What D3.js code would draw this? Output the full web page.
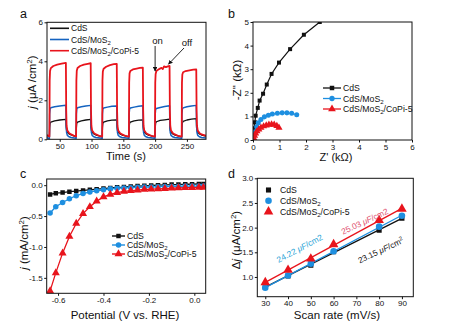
<!DOCTYPE html>
<html><head><meta charset="utf-8">
<script src="https://cdn.jsdelivr.net/npm/d3@7"></script>
<style>
body{margin:0;background:#fff}
svg{display:block;font-family:"Liberation Sans",Arial,sans-serif}
</style>
</head><body>
<svg id="fig" width="451" height="326"></svg>
<script>
// ---------------- DATA ----------------
const legendNames = [
  [["CdS"]],
  [["CdS/MoS"],["2","sub"]],
  [["CdS/MoS"],["2","sub"],["/CoPi-5"]]
];
// panel a : photocurrent vs time (s, µA/cm2)
const aTicksX = [50,100,150,200,250];
const aTicksY = [0,2,4,6];
const aCdS = [[30,0.2],[33.8,0.13],
 [34.2,0.6],[34.8,0.82],[36,0.88],[42,0.95],[50,0.99],[59.7,1.02],
 [60.2,0.6],[60.8,0.45],[62,0.36],[64.5,0.28],[68,0.22],[72,0.17],[75.8,0.13],
 [76.2,0.6],[76.8,0.82],[78,0.88],[84,0.95],[91,0.99],[98.7,1.02],
 [99.2,0.6],[99.8,0.45],[101,0.36],[103.5,0.28],[107,0.22],[112,0.17],[116.8,0.13],
 [117.2,0.6],[117.8,0.82],[119,0.88],[125,0.95],[132,0.98],[139.7,1.0],
 [140.2,0.6],[140.8,0.45],[142,0.36],[144.5,0.28],[148,0.22],[153,0.17],[158.8,0.13],
 [159.2,0.6],[159.8,0.82],[161,0.88],[167,0.95],[174,0.98],[180.7,1.0],
 [181.2,0.6],[181.8,0.45],[183,0.36],[185.5,0.28],[189,0.22],[194,0.17],[199.8,0.13],
 [200.2,0.6],[200.8,0.82],[202,0.9],[208,0.97],[215,1.0],[222.7,1.03],
 [223.2,0.6],[223.8,0.45],[225,0.36],[227.5,0.28],[231,0.22],[236,0.17],[241.8,0.13],
 [242.2,0.6],[242.8,0.84],[244,0.92],[250,0.99],[257,1.03],[264.7,1.06],
 [265.2,0.6],[265.8,0.45],[267,0.36],[269.5,0.28],[273,0.22],[280,0.16]];
const aMoS2 = [[30,0.08],[33.8,0.04],
 [34.2,1.3],[34.8,1.55],[36,1.62],[42,1.67],[50,1.71],[59.7,1.75],
 [60.2,0.7],[60.8,0.35],[62,0.2],[64.5,0.13],[68,0.09],[75.8,0.05],
 [76.2,1.3],[76.8,1.55],[78,1.62],[84,1.67],[91,1.71],[98.7,1.74],
 [99.2,0.7],[99.8,0.35],[101,0.2],[103.5,0.13],[107,0.09],[116.8,0.05],
 [117.2,1.3],[117.8,1.55],[119,1.6],[125,1.65],[132,1.69],[139.7,1.71],
 [140.2,0.7],[140.8,0.35],[142,0.2],[144.5,0.13],[148,0.09],[158.8,0.05],
 [159.2,1.3],[159.8,1.55],[161,1.6],[167,1.65],[174,1.69],[180.7,1.72],
 [181.2,0.7],[181.8,0.35],[183,0.2],[185.5,0.13],[189,0.09],[199.8,0.05],
 [200.2,1.3],[200.8,1.53],[202,1.58],[208,1.63],[215,1.68],[222.7,1.72],
 [223.2,0.7],[223.8,0.35],[225,0.2],[227.5,0.13],[231,0.09],[241.8,0.05],
 [242.2,1.3],[242.8,1.55],[244,1.61],[250,1.67],[257,1.71],[264.7,1.74],
 [265.2,0.7],[265.8,0.35],[267,0.2],[269.5,0.13],[273,0.09],[280,0.06]];
const aCoPi = [[30,0.22],[33.8,0.14],
 [34.2,3.0],[34.8,3.5],[36,3.65],[40,3.76],[46,3.83],[53,3.88],[59.7,3.92],
 [60.2,1.5],[60.8,0.7],[62,0.45],[64.5,0.33],[68,0.25],[72,0.19],[75.8,0.15],
 [76.2,3.0],[76.8,3.52],[78,3.66],[82,3.76],[88,3.83],[94,3.87],[98.7,3.9],
 [99.2,1.5],[99.8,0.7],[101,0.45],[103.5,0.33],[107,0.25],[112,0.18],[116.8,0.14],
 [117.2,3.0],[117.8,3.48],[119,3.62],[123,3.72],[129,3.8],[135,3.85],[139.7,3.87],
 [140.2,1.5],[140.8,0.7],[142,0.45],[144.5,0.33],[148,0.25],[153,0.18],[158.8,0.14],
 [159.2,2.9],[159.8,3.38],[161,3.5],[165,3.58],[171,3.63],[176,3.66],[180.7,3.68],
 [181.2,1.5],[181.8,0.7],[183,0.45],[185.5,0.33],[189,0.25],[194,0.18],[199.8,0.14],
 [200.2,2.9],[200.8,3.35],[202,3.5],[206,3.6],[210,3.66],[212,3.6],[214,3.74],[217,3.7],[220,3.74],[222.7,3.76],
 [223.2,1.5],[223.8,0.7],[225,0.45],[227.5,0.33],[231,0.25],[236,0.18],[241.8,0.14],
 [242.2,2.9],[242.8,3.32],[244,3.44],[248,3.5],[254,3.54],[260,3.57],[264.7,3.58],
 [265.2,1.5],[265.8,0.7],[267,0.45],[269.5,0.33],[273,0.25],[280,0.18]];

// panel b : Nyquist plot (kOhm)
const bTicksX = [0,1,2,3,4,5,6];
const bTicksY = [0,1,2,3,4,5];
const bCdS = [[0.02,0.1],[0.04,0.3],[0.05,0.5],[0.07,0.75],[0.1,1.03],[0.18,1.36],[0.25,1.67],[0.38,1.96],[0.52,2.35],[0.7,2.8],[0.98,3.28],[1.4,3.85],[1.92,4.46],[2.52,5.0],[2.8,5.2]];
const bMoS2 = [[0.02,0.08],[0.04,0.2],[0.075,0.35],[0.14,0.56],[0.2,0.73],[0.3,0.87],[0.43,0.98],[0.58,1.05],[0.73,1.1],[0.92,1.13],[1.1,1.15],[1.28,1.15],[1.46,1.13],[1.65,1.07]];
const bCoPi = [[0.03,0.08],[0.06,0.18],[0.1,0.28],[0.15,0.37],[0.22,0.45],[0.3,0.52],[0.4,0.58],[0.5,0.62],[0.6,0.65],[0.7,0.66],[0.8,0.65],[0.9,0.6],[0.98,0.52]];

// panel c : LSV (V vs RHE, mA/cm2)
const cTicksX = [-0.6,-0.4,-0.2,0.0];
const cTickLabelsX = ["-0.6","-0.4","-0.2","0.0"];
const cTicksY = [0,-0.5,-1.0,-1.5];
const cTickLabelsY = ["0.0","-0.5","-1.0","-1.5"];
const cPotential = [-0.635,-0.61,-0.58,-0.55,-0.52,-0.49,-0.46,-0.43,-0.40,-0.37,-0.34,-0.31,-0.28,-0.25,-0.22,-0.19,-0.16,-0.13,-0.10,-0.07,-0.04,-0.01,0.02,0.04];
const cCdS  = [-0.15,-0.13,-0.12,-0.105,-0.095,-0.085,-0.075,-0.065,-0.055,-0.045,-0.035,-0.03,-0.02,-0.015,-0.01,-0.005,0.0,0.005,0.01,0.01,0.015,0.015,0.02,0.02];
const cMoS2 = [-0.45,-0.35,-0.28,-0.22,-0.17,-0.135,-0.11,-0.09,-0.075,-0.06,-0.05,-0.045,-0.04,-0.035,-0.03,-0.03,-0.025,-0.02,-0.02,-0.02,-0.015,-0.015,-0.015,-0.015];
const cCoPi = [-1.71,-1.42,-1.10,-0.83,-0.62,-0.46,-0.35,-0.26,-0.19,-0.15,-0.12,-0.10,-0.09,-0.08,-0.07,-0.065,-0.06,-0.055,-0.05,-0.045,-0.04,-0.04,-0.035,-0.035];

// panel d : double-layer capacitance
const dScanRate = [30,40,50,60,80,90];
const dTicksX = [30,40,50,60,70,80,90];
const dTicksY = [1.0,1.5,2.0,2.5,3.0];
const dTickLabelsY = ["1.0","1.5","2.0","2.5","3.0"];
const dCdS  = [0.80,1.02,1.24,1.51,1.95,2.19];
const dMoS2 = [0.78,1.03,1.27,1.52,2.02,2.24];
const dCoPi = [0.89,1.14,1.37,1.66,2.15,2.38];
const dCapLabels = ["23.15","24.22","25.03"];

// ---------------- STYLE ----------------
const BLACK="#111111", BLUE_A="#1463c0", BLUE="#1e8fe0", RED="#e8141c";
const svg = d3.select("#fig");
svg.append("rect").attr("width",451).attr("height",326).attr("fill","#fff");

// rich text: parts = [[text, style]], style in {sub, sup, it}
function rich(sel, parts, size){
  let pending = 0;
  parts.forEach(p=>{
    const ts = sel.append("tspan").text(p[0]);
    let dy = pending; pending = 0;
    if(p[1]==="sub"){ ts.attr("font-size",size*0.7); dy += size*0.28; pending = -size*0.28; }
    else if(p[1]==="sup"){ ts.attr("font-size",size*0.7); dy += -size*0.38; pending = size*0.38; }
    else { ts.attr("font-size",size); }
    if(p[1]==="it") ts.attr("font-style","italic");
    if(dy!==0) ts.attr("dy",dy);
  });
  return sel;
}

function frame(g,x,y,id,opts){
  const [x0,x1]=x.range(), [y0,y1]=y.range();
  svg.append("clipPath").attr("id",id).append("rect")
    .attr("x",Math.min(x0,x1)).attr("y",Math.min(y0,y1))
    .attr("width",Math.abs(x1-x0)).attr("height",Math.abs(y1-y0));
  const ax = g.append("g").attr("transform",`translate(0,${y0})`)
    .call(d3.axisBottom(x).tickValues(opts.tx).tickSize(2.5).tickPadding(1.5).tickFormat(opts.fx||(d=>d)));
  const ay = g.append("g").attr("transform",`translate(${x0},0)`)
    .call(d3.axisLeft(y).tickValues(opts.ty).tickSize(2.5).tickPadding(1.5).tickFormat(opts.fy||(d=>d)));
  [ax,ay].forEach(a=>{
    a.select(".domain").remove();
    a.selectAll("text").attr("font-size",8).attr("font-family",null).attr("fill","#111");
    a.selectAll("line").attr("stroke","#111");
  });
  g.append("rect").attr("x",x0).attr("y",y1).attr("width",x1-x0).attr("height",y0-y1)
    .attr("fill","none").attr("stroke","#111").attr("stroke-width",1);
}

function title(txt,x,y,rot,size){
  const s=size||11.5;
  const t = svg.append("text").attr("font-size",s).attr("fill","#111")
    .attr("text-anchor","middle")
    .attr("transform",`translate(${x},${y})`+(rot?" rotate(-90)":""));
  rich(t,txt,s);
  return t;
}
function letter(l,x,y){
  svg.append("text").attr("x",x).attr("y",y).attr("font-size",12.5).attr("fill","#111").text(l);
}
const symTypes=[d3.symbolSquare,d3.symbolCircle,d3.symbolTriangle];

// ---------------- PANEL A ----------------
{
  const x=d3.scaleLinear([30,280],[47,206]);
  const y=d3.scaleLinear([0,6],[139.3,22.3]);
  const g=svg.append("g");
  const line=d3.line().x(d=>x(d[0])).y(d=>y(d[1]));
  const pg=g.append("g").attr("clip-path","url(#clipA)");
  [[aCdS,BLACK,1.3],[aMoS2,BLUE_A,1.5],[aCoPi,RED,1.8]].forEach(([d,c,w])=>{
    pg.append("path").datum(d).attr("d",line).attr("fill","none").attr("stroke",c).attr("stroke-width",w).attr("stroke-linejoin","round");
  });
  frame(g,x,y,"clipA",{tx:aTicksX,ty:aTicksY});
  const cols=[BLACK,BLUE_A,RED];
  legendNames.forEach((n,i)=>{
    const yy=28.3+i*11.2;
    g.append("line").attr("x1",50).attr("x2",69).attr("y1",yy).attr("y2",yy).attr("stroke",cols[i]).attr("stroke-width",1.6);
    rich(g.append("text").attr("x",71).attr("y",yy+3).attr("font-size",8.5).attr("fill","#111"),n,8.5);
  });
  // on / off arrows
  const defs=svg.append("defs");
  defs.append("marker").attr("id","arr").attr("viewBox","0 0 10 10").attr("refX",9).attr("refY",5)
    .attr("markerWidth",5).attr("markerHeight",5).attr("orient","auto")
    .append("path").attr("d","M0,0L10,5L0,10z").attr("fill","#111");
  g.append("text").attr("x",157.5).attr("y",44).attr("text-anchor","middle").attr("font-size",9.5).attr("fill","#111").text("on");
  g.append("text").attr("x",187).attr("y",46).attr("text-anchor","middle").attr("font-size",9.5).attr("fill","#111").text("off");
  g.append("line").attr("x1",x(200)).attr("y1",46).attr("x2",x(200)).attr("y2",y(3.5)).attr("stroke","#111").attr("stroke-width",0.9).attr("marker-end","url(#arr)");
  g.append("line").attr("x1",184).attr("y1",48).attr("x2",x(221)).attr("y2",y(3.85)).attr("stroke","#111").attr("stroke-width",0.9).attr("marker-end","url(#arr)");
  title([["Time (s)"]],126,159.5,false,11);
  title([["j","it"],[" (\u03bcA /cm"],["2","sup"],[")"]],36,82,true);
  letter("a",20,18);
}

// ---------------- PANEL B ----------------
{
  const x=d3.scaleLinear([0,6],[253,412]);
  const y=d3.scaleLinear([0,5],[140,22]);
  const g=svg.append("g");
  const line=d3.line().x(d=>x(d[0])).y(d=>y(d[1]));
  const pg=g.append("g").attr("clip-path","url(#clipB)");
  const sets=[[bCdS,BLACK,16],[bMoS2,BLUE,20],[bCoPi,RED,22]];
  sets.forEach(([d,c,s],i)=>{
    pg.append("path").datum(d).attr("d",line).attr("fill","none").attr("stroke",c).attr("stroke-width",1.2);
    pg.selectAll(null).data(d).enter().append("path")
      .attr("d",d3.symbol(symTypes[i],s)).attr("transform",p=>`translate(${x(p[0])},${y(p[1])})`).attr("fill",c);
  });
  frame(g,x,y,"clipB",{tx:bTicksX,ty:bTicksY});
  const cols=[BLACK,BLUE,RED];
  legendNames.forEach((n,i)=>{
    const yy=88+i*10.5;
    g.append("line").attr("x1",323).attr("x2",341).attr("y1",yy).attr("y2",yy).attr("stroke",cols[i]).attr("stroke-width",1.3);
    g.append("path").attr("d",d3.symbol(symTypes[i],[20,22,26][i])).attr("transform",`translate(332,${yy})`).attr("fill",cols[i]);
    rich(g.append("text").attr("x",343).attr("y",yy+3).attr("font-size",8.7).attr("fill","#111"),n,8.7);
  });
  title([["Z' (k\u03a9)"]],336,161,false,11);
  title([["-Z'' (k\u03a9)"]],241,80,true);
  letter("b",228,18);
}

// ---------------- PANEL C ----------------
{
  const x=d3.scaleLinear([-0.65,0.05],[46.7,205.7]);
  const y=d3.scaleLinear([-1.75,0.1],[293.3,179]);
  const g=svg.append("g");
  const pg=g.append("g").attr("clip-path","url(#clipC)");
  const sets=[[cCdS,BLACK,20],[cMoS2,BLUE,24],[cCoPi,RED,28]];
  sets.forEach(([vals,c,s],i)=>{
    const pts=cPotential.map((p,k)=>[p,vals[k]]);
    pg.append("path").datum(pts).attr("d",d3.line().x(d=>x(d[0])).y(d=>y(d[1]))).attr("fill","none").attr("stroke",c).attr("stroke-width",1.3);
    pg.selectAll(null).data(pts).enter().append("path")
      .attr("d",d3.symbol(symTypes[i],s)).attr("transform",p=>`translate(${x(p[0])},${y(p[1])})`).attr("fill",c);
  });
  frame(g,x,y,"clipC",{tx:cTicksX,ty:cTicksY,fx:(d,i)=>cTickLabelsX[i],fy:(d,i)=>cTickLabelsY[i]});
  const cols=[BLACK,BLUE,RED];
  legendNames.forEach((n,i)=>{
    const yy=236+i*9;
    g.append("line").attr("x1",112).attr("x2",125).attr("y1",yy).attr("y2",yy).attr("stroke",cols[i]).attr("stroke-width",1.4);
    g.append("path").attr("d",d3.symbol(symTypes[i],[20,24,28][i])).attr("transform",`translate(118.5,${yy})`).attr("fill",cols[i]);
    rich(g.append("text").attr("x",127).attr("y",yy+3).attr("font-size",8.7).attr("fill","#111"),n,8.7);
  });
  title([["Potential (V vs. RHE)"]],125,318.5);
  title([["j","it"],[" (mA/cm"],["2","sup"],[")"]],28,243,true);
  letter("c",20,178);
}

// ---------------- PANEL D ----------------
{
  const x=d3.scaleLinear([26.5,95],[257.3,413.3]);
  const y=d3.scaleLinear([0.6,3.0],[296.7,178.3]);
  const g=svg.append("g");
  const pg=g.append("g").attr("clip-path","url(#clipD)");
  const sets=[[dCdS,BLACK,26],[dMoS2,BLUE,34],[dCoPi,RED,40]];
  sets.forEach(([vals,c,s],i)=>{
    // least-squares fit of each series
    const n=vals.length, mx=d3.mean(dScanRate), my=d3.mean(vals);
    const b=d3.sum(dScanRate.map((xx,k)=>(xx-mx)*(vals[k]-my)))/d3.sum(dScanRate.map(xx=>(xx-mx)**2));
    const a=my-b*mx;
    const x0=dScanRate[0], x1=dScanRate[n-1];
    pg.append("line").attr("x1",x(x0)).attr("y1",y(a+b*x0)).attr("x2",x(x1)).attr("y2",y(a+b*x1))
      .attr("stroke",c).attr("stroke-width",1.3);
  });
  sets.forEach(([vals,c,s],i)=>{
    pg.selectAll(null).data(vals).enter().append("path")
      .attr("d",d3.symbol(symTypes[i],s)).attr("transform",(v,k)=>`translate(${x(dScanRate[k])},${y(v)})`).attr("fill",c);
  });
  frame(g,x,y,"clipD",{tx:dTicksX,ty:dTicksY,fy:(d,i)=>dTickLabelsY[i]});
  const cols=[BLACK,BLUE,RED];
  legendNames.forEach((n,i)=>{
    const yy=190+i*10.8;
    g.append("path").attr("d",d3.symbol(symTypes[i],[26,34,40][i])).attr("transform",`translate(268.5,${yy})`).attr("fill",cols[i]);
    rich(g.append("text").attr("x",280).attr("y",yy+3).attr("font-size",8.7).attr("fill","#111"),n,8.7);
  });
  const ann=[[dCapLabels[1],"#27a3d6",301,251,-28,false],[dCapLabels[2],"#e0506e",366,224,-25,false],[dCapLabels[0],"#111",382,253,-25,true]];
  ann.forEach(([v,c,xx,yy,r,sup])=>{
    const t=g.append("text").attr("font-size",8.3).attr("fill",c).attr("text-anchor","middle")
      .attr("transform",`translate(${xx},${yy}) rotate(${r})`);
    rich(t, sup? [[v+" "],["\u03bcF","it"],["/cm"],["2","sup"]] : [[v+" "],["\u03bcF","it"],["/cm2"]], 8.3);
  });
  title([["Scan rate (mV/s)"]],337,318.5);
  title([["\u0394"],["j","it"],[" (\u03bcA/cm"],["2","sup"],[")"]],240,240,true);
  letter("d",228,178);
}
</script>
</body></html>
